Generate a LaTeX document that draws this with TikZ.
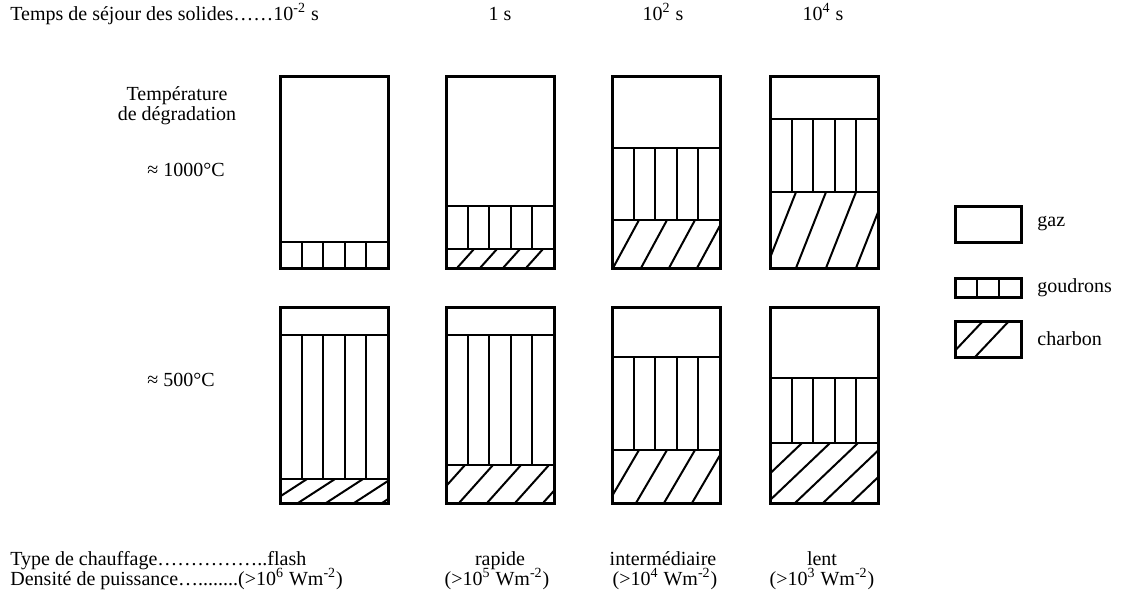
\documentclass[tikz,border=0pt]{standalone}
\usepackage{fontspec}
\setmainfont{Liberation Serif}

\begin{document}
\begin{tikzpicture}[x=0.5pt,y=0.5pt]
\tikzstyle{every node}+=[inner sep=0pt,font=\fontsize{10}{12}\selectfont]
\tikzstyle{cadre}=[black,line width=1.5pt]
\tikzstyle{trait}=[black,line width=1pt]
\useasboundingbox (0,0) rectangle (1133,-596);
\node [anchor=base west] (temps) at (10,-20) {Temps de séjour des solides……10\textsuperscript{-2} s};
\node [anchor=base] (temps1) at (500,-20) {1 s};
\node [anchor=base] (temps2) at (663,-20) {10\textsuperscript{2} s};
\node [anchor=base] (temps3) at (823,-20) {10\textsuperscript{4} s};
\node [anchor=base] (degr1) at (177,-100) {Température};
\node [anchor=base] (degr2) at (177,-120) {de dégradation};
\node [anchor=base west] (haut) at (147,-176) {≈ 1000°C};
\node [anchor=base west] (bas) at (147,-386) {≈ 500°C};
% rangee du haut
\draw [trait] (280,-242) -- (388,-242);
\draw [trait] (301.6,-242) -- (301.6,-268) (323.2,-242) -- (323.2,-268) (344.8,-242) -- (344.8,-268) (366.4,-242) -- (366.4,-268);
\draw [cadre] (280,-76) rectangle (388,-268);
\draw [trait] (446,-206) -- (554,-206) (446,-249) -- (554,-249);
\draw [trait] (467.6,-206) -- (467.6,-249) (489.2,-206) -- (489.2,-249) (510.8,-206) -- (510.8,-249) (532.4,-206) -- (532.4,-249);
\draw [trait] (457,-268) -- (474,-249) (480,-268) -- (497,-249) (503,-268) -- (520,-249) (526,-268) -- (543,-249);
\draw [cadre] (446,-76) rectangle (554,-268);
\draw [trait] (612,-148) -- (720,-148) (612,-220) -- (720,-220);
\draw [trait] (633.6,-148) -- (633.6,-220) (655.2,-148) -- (655.2,-220) (676.8,-148) -- (676.8,-220) (698.4,-148) -- (698.4,-220);
\begin{scope}
\clip (612,-220) rectangle (720,-268);
\draw [trait] (613,-268) -- (639,-220) (641,-268) -- (667,-220) (669,-268) -- (695,-220) (697,-268) -- (723,-220);
\end{scope}
\draw [cadre] (612,-76) rectangle (720,-268);
\draw [trait] (770,-119) -- (878,-119) (770,-192) -- (878,-192);
\draw [trait] (791.6,-119) -- (791.6,-192) (813.2,-119) -- (813.2,-192) (834.8,-119) -- (834.8,-192) (856.4,-119) -- (856.4,-192);
\begin{scope}
\clip (770,-192) rectangle (878,-268);
\draw [trait] (766,-268) -- (796,-192) (796,-268) -- (826,-192) (826,-268) -- (856,-192) (856,-268) -- (886,-192);
\end{scope}
\draw [cadre] (770,-76) rectangle (878,-268);
% rangee du bas
\draw [trait] (280,-335) -- (388,-335) (280,-479) -- (388,-479);
\draw [trait] (301.6,-335) -- (301.6,-479) (323.2,-335) -- (323.2,-479) (344.8,-335) -- (344.8,-479) (366.4,-335) -- (366.4,-479);
\begin{scope}
\clip (280,-479) rectangle (388,-503);
\draw [trait] (270,-503) -- (307,-479) (298,-503) -- (335,-479) (326,-503) -- (363,-479) (354,-503) -- (391,-479) (382,-503) -- (419,-479);
\end{scope}
\draw [cadre] (280,-307) rectangle (388,-503);
\draw [trait] (446,-335) -- (554,-335) (446,-465) -- (554,-465);
\draw [trait] (467.6,-335) -- (467.6,-465) (489.2,-335) -- (489.2,-465) (510.8,-335) -- (510.8,-465) (532.4,-335) -- (532.4,-465);
\begin{scope}
\clip (446,-465) rectangle (554,-503);
\draw [trait] (431,-503) -- (465,-465) (459,-503) -- (493,-465) (487,-503) -- (521,-465) (515,-503) -- (549,-465) (543,-503) -- (577,-465);
\end{scope}
\draw [cadre] (446,-307) rectangle (554,-503);
\draw [trait] (612,-357) -- (720,-357) (612,-450) -- (720,-450);
\draw [trait] (633.6,-357) -- (633.6,-450) (655.2,-357) -- (655.2,-450) (676.8,-357) -- (676.8,-450) (698.4,-357) -- (698.4,-450);
\begin{scope}
\clip (612,-450) rectangle (720,-503);
\draw [trait] (608,-503) -- (639,-450) (636,-503) -- (667,-450) (664,-503) -- (695,-450) (692,-503) -- (723,-450);
\end{scope}
\draw [cadre] (612,-307) rectangle (720,-503);
\draw [trait] (770,-378) -- (878,-378) (770,-443) -- (878,-443);
\draw [trait] (791.6,-378) -- (791.6,-443) (813.2,-378) -- (813.2,-443) (834.8,-378) -- (834.8,-443) (856.4,-378) -- (856.4,-443);
\begin{scope}
\clip (770,-443) rectangle (878,-503);
\draw [trait] (739,-503) -- (802,-443) (767,-503) -- (830,-443) (795,-503) -- (858,-443) (823,-503) -- (886,-443) (851,-503) -- (914,-443);
\end{scope}
\draw [cadre] (770,-307) rectangle (878,-503);
% legende
\draw [cadre] (955,-206) rectangle (1021,-242);
\node [anchor=west] (gaz) at (1037,-224) {gaz};
\draw [trait] (977,-278) -- (977,-297) (999,-278) -- (999,-297);
\draw [cadre] (955,-278) rectangle (1021,-297);
\node [anchor=west] (goudrons) at (1037,-287.5) {goudrons};
\begin{scope}
\clip (955,-321) rectangle (1021,-357);
\draw [trait] (949,-357) -- (983,-321) (975,-357) -- (1009,-321);
\end{scope}
\draw [cadre] (955,-321) rectangle (1021,-357);
\node [anchor=west] (charbon) at (1037,-339) {charbon};
% chauffage
\node [anchor=base west] (type) at (10,-565) {Type de chauffage……………..flash};
\node [anchor=base west] (dens) at (10,-585) {Densité de puissance…........(>10\textsuperscript{6} Wm\textsuperscript{-2})};
\node [anchor=base] (type1) at (500,-565) {rapide};
\node [anchor=base] (dens1) at (497,-585) {(>10\textsuperscript{5} Wm\textsuperscript{-2})};
\node [anchor=base] (type2) at (663,-565) {intermédiaire};
\node [anchor=base] (dens2) at (665,-585) {(>10\textsuperscript{4} Wm\textsuperscript{-2})};
\node [anchor=base] (type3) at (822,-565) {lent};
\node [anchor=base] (dens3) at (822,-585) {(>10\textsuperscript{3} Wm\textsuperscript{-2})};
\end{tikzpicture}
\end{document}
